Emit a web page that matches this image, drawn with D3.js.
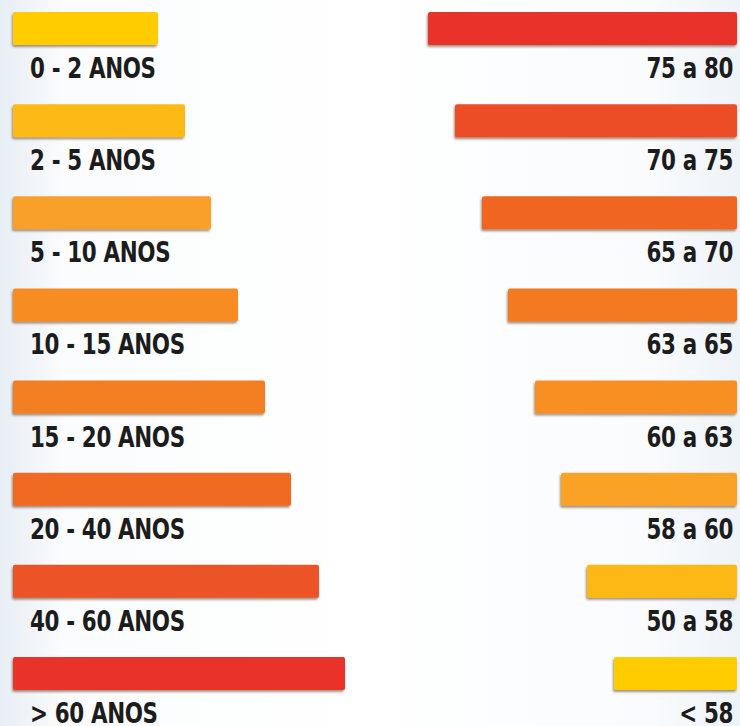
<!DOCTYPE html>
<html>
<head>
<meta charset="utf-8">
<script src="https://cdn.jsdelivr.net/npm/d3@7"></script>
<style>
  html, body { margin: 0; padding: 0; background: #fff; }
  svg { display: block; }
  .lbl { font-family: "DejaVu Sans", sans-serif;
         font-weight: bold; font-size: 29px; fill: #1c1c1c; letter-spacing: -0.5px; }
</style>
</head>
<body>
<svg id="chart" width="740" height="726"></svg>
<script>
// faixas etarias (lado esquerdo)
var leftLabels = ["0 - 2 ANOS", "2 - 5 ANOS", "5 - 10 ANOS", "10 - 15 ANOS",
                  "15 - 20 ANOS", "20 - 40 ANOS", "40 - 60 ANOS", "> 60 ANOS"];
var leftValues = [145, 172, 198, 225, 252, 278, 306, 332];
var leftColors = ["#ffcc05", "#fdb914", "#f9a02c", "#f68c23", "#f47e20", "#f06a22", "#ec5326", "#e8302a"];

// faixas (lado direito)
var rightLabels = ["75 a 80", "70 a 75", "65 a 70", "63 a 65",
                   "60 a 63", "58 a 60", "50 a 58", "< 58"];
var rightValues = [309, 282, 255, 229, 202, 176, 150, 123];
var rightColors = ["#e8302a", "#ec4e25", "#f06522", "#f47a20", "#f78f20", "#faa226", "#fdb814", "#ffcc05"];

var W = 740, H = 726;
var svg = d3.select('#chart');

var defs = svg.append('defs');
var bg = defs.append('linearGradient').attr('id', 'bg')
  .attr('x1', 0).attr('x2', 1).attr('y1', 0).attr('y2', 0);
bg.append('stop').attr('offset', '0%').attr('stop-color', '#e8eef5');
bg.append('stop').attr('offset', '9%').attr('stop-color', '#fbfcfd');
bg.append('stop').attr('offset', '50%').attr('stop-color', '#ffffff');
bg.append('stop').attr('offset', '88%').attr('stop-color', '#f9fbfd');
bg.append('stop').attr('offset', '100%').attr('stop-color', '#eef3f8');

var shadow = defs.append('filter').attr('id', 'shadow')
  .attr('x', '-5%').attr('y', '-20%').attr('width', '110%').attr('height', '160%');
shadow.append('feDropShadow').attr('dx', -1).attr('dy', 2)
  .attr('stdDeviation', 0.9).attr('flood-color', '#5a3a20').attr('flood-opacity', 0.55);

svg.append('rect').attr('width', W).attr('height', H).attr('fill', 'url(#bg)');

var x = d3.scaleLinear().domain([0, 340]).range([0, 340]);
var y = d3.scaleLinear().domain([0, 7]).range([12, 657]);
var barH = 33;
var squeeze = 0.74; // fonte condensada

var rows = d3.range(8);

// lado esquerdo
var left = svg.append('g');
left.selectAll('rect').data(rows).enter().append('rect')
  .attr('x', 13)
  .attr('y', function(i){ return y(i); })
  .attr('width', function(i){ return x(leftValues[i]); })
  .attr('height', barH)
  .attr('rx', 2)
  .attr('fill', function(i){ return leftColors[i]; })
  .attr('filter', 'url(#shadow)');

left.selectAll('text').data(rows).enter().append('text')
  .attr('class', 'lbl')
  .attr('transform', function(i){
    return 'translate(30,' + (y(i) + 66) + ') scale(' + squeeze + ',1)';
  })
  .text(function(i){ return leftLabels[i]; });

// lado direito
var right = svg.append('g');
right.selectAll('rect').data(rows).enter().append('rect')
  .attr('x', function(i){ return 737 - x(rightValues[i]); })
  .attr('y', function(i){ return y(i); })
  .attr('width', function(i){ return x(rightValues[i]); })
  .attr('height', barH)
  .attr('rx', 2)
  .attr('fill', function(i){ return rightColors[i]; })
  .attr('filter', 'url(#shadow)');

right.selectAll('text').data(rows).enter().append('text')
  .attr('class', 'lbl')
  .attr('transform', function(i){
    return 'translate(733,' + (y(i) + 66) + ') scale(' + squeeze + ',1)';
  })
  .attr('text-anchor', 'end')
  .text(function(i){ return rightLabels[i]; });
</script>
</body>
</html>
